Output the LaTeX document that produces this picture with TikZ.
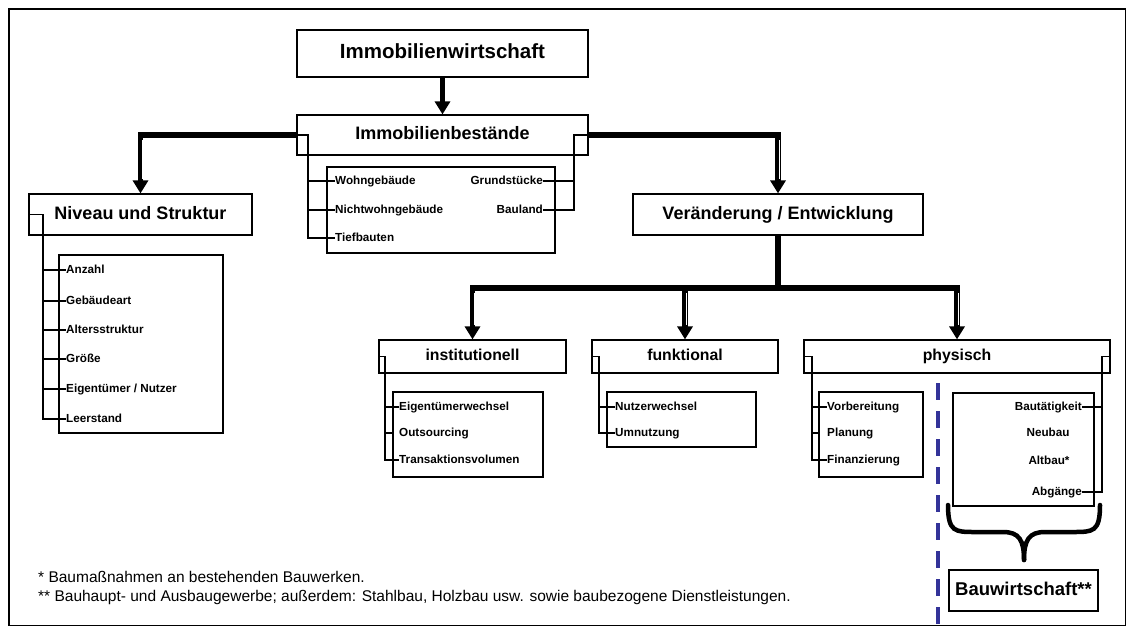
\documentclass[tikz,border=0pt]{standalone}
\usepackage{fontspec}
\setmainfont{Liberation Sans}
\usetikzlibrary{arrows.meta,calc}
\definecolor{dblue}{RGB}{51,51,153}
\begin{document}
\begin{tikzpicture}[x=1pt,y=-1pt,
  box/.style={draw, line width=1.2pt, inner sep=0pt, text height=13pt, text depth=3.6pt, font=\bfseries\fontsize{18}{20}\selectfont},
  subbox/.style={box, text height=11.4pt, text depth=3.2pt, font=\bfseries\fontsize{15.8}{18}\selectfont},
  listbox/.style={draw, line width=1.2pt, inner sep=0pt},
  item/.style={inner sep=0pt, font=\bfseries\fontsize{11.7}{13}\selectfont, text height=8.5pt, text depth=2.5pt},
  foot/.style={inner sep=0pt, anchor=west, font=\fontsize{15.5}{17}\selectfont},
  br/.style={line width=1.2pt},
  flowline/.style={line width=5.5pt},
  flow/.style={line width=5.5pt, -{Triangle[width=15pt,length=13pt]}},
  stripe/.style={white, line width=1.2pt},
  dashblue/.style={dblue, line width=4pt, dash pattern=on 17pt off 11pt},
  bracestyle/.style={line width=4.5pt, line cap=round}
]
\useasboundingbox (0,0) rectangle (1126,626);
% outer frame
\draw[line width=1.5pt] (9,9) rectangle (1125.5,625.5);

% main boxes
\node[box, minimum width=291pt, minimum height=47pt, text height=14.8pt, text depth=4.2pt, font=\bfseries\fontsize{20.5}{22}\selectfont] (iw) at (442.5,53.5) {Immobilienwirtschaft};
\node[box, minimum width=291pt, minimum height=40pt] (ib) at (442.5,135) {Immobilienbestände};
\node[listbox, minimum width=228pt, minimum height=86pt] (ibl) at (441,210) {};
\node[box, minimum width=223pt, minimum height=41pt] (ns) at (140.5,214.5) {Niveau und Struktur};
\node[listbox, minimum width=164pt, minimum height=178pt] (nsl) at (141,344) {};
\node[box, minimum width=290pt, minimum height=41pt] (ve) at (778,214.5) {Veränderung / Entwicklung};
\node[subbox, minimum width=187pt, minimum height=33pt] (inst) at (472.5,356.5) {institutionell};
\node[listbox, minimum width=150pt, minimum height=85pt] (instl) at (468,434.5) {};
\node[subbox, minimum width=186pt, minimum height=33pt] (fun) at (685,356.5) {funktional};
\node[listbox, minimum width=149pt, minimum height=55pt] (funl) at (681.5,419.5) {};
\node[subbox, minimum width=306pt, minimum height=33pt] (phy) at (957,356.5) {physisch};
\node[listbox, minimum width=104pt, minimum height=85pt] (phyl) at (871,434.5) {};
\node[listbox, minimum width=141pt, minimum height=113pt] (phyr) at (1023.5,449.5) {};
\node[box, minimum width=149pt, minimum height=41pt, text height=13.3pt, text depth=3.8pt, font=\bfseries\fontsize{18.5}{20}\selectfont] (bw) at (1023.5,590.5) {Bauwirtschaft**};

% items: Immobilienbestände
\node[item, anchor=west] (w1) at (335,181) {Wohngebäude};
\node[item, anchor=west] (w2) at (335,210) {Nichtwohngebäude};
\node[item, anchor=west] (w3) at (335,238) {Tiefbauten};
\node[item, anchor=east] (g1) at (543,181) {Grundstücke};
\node[item, anchor=east] (g2) at (543,210) {Bauland};
% items: Niveau
\node[item, anchor=west] (a1) at (66,270) {Anzahl};
\node[item, anchor=west] (a2) at (66,301) {Gebäudeart};
\node[item, anchor=west] (a3) at (66,330) {Altersstruktur};
\node[item, anchor=west] (a4) at (66,359) {Größe};
\node[item, anchor=west] (a5) at (66,389) {Eigentümer / Nutzer};
\node[item, anchor=west] (a6) at (66,419) {Leerstand};
% items: institutionell
\node[item, anchor=west] (i1) at (399,407) {Eigentümerwechsel};
\node[item, anchor=west] (i2) at (399,433) {Outsourcing};
\node[item, anchor=west] (i3) at (399,460) {Transaktionsvolumen};
% items: funktional
\node[item, anchor=west] (f1) at (615,407) {Nutzerwechsel};
\node[item, anchor=west] (f2) at (615,433) {Umnutzung};
% items: physisch left
\node[item, anchor=west] (p1) at (827,407) {Vorbereitung};
\node[item, anchor=west] (p2) at (827,433) {Planung};
\node[item, anchor=west] (p3) at (827,460) {Finanzierung};
% items: physisch right
\node[item, anchor=east] (r1) at (1082,407) {Bautätigkeit};
\node[item] (r2) at (1048,433) {Neubau};
\node[item] (r3) at (1049,461) {Altbau*};
\node[item, anchor=east] (r4) at (1082,492) {Abgänge};

% brackets
\coordinate (ibL) at (308,135);
\draw[br] (ib.west) -- (ibL) |- (w3.west);
\draw[br] (ibL |- w1.west) -- (w1.west);
\draw[br] (ibL |- w2.west) -- (w2.west);
\coordinate (ibR) at (574,135);
\draw[br] (ib.east) -- (ibR) |- (g2.east);
\draw[br] (ibR |- g1.east) -- (g1.east);

\coordinate (nsB) at (43,214.5);
\draw[br] (ns.west) -- (nsB) |- (a6.west);
\foreach \n in {a1,a2,a3,a4,a5} \draw[br] (nsB |- \n.west) -- (\n.west);

\coordinate (instB) at (385,356.5);
\draw[br] (inst.west) -- (instB) |- (i3.west);
\draw[br] (instB |- i1.west) -- (i1.west);
\draw[br] (instB |- i2.west) -- (instl.west |- i2.west);

\coordinate (funB) at (599,356.5);
\draw[br] (fun.west) -- (funB) |- (f2.west);
\draw[br] (funB |- f1.west) -- (f1.west);

\coordinate (phyB) at (812,356.5);
\draw[br] (phy.west) -- (phyB) |- (p3.west);
\draw[br] (phyB |- p1.west) -- (p1.west);
\draw[br] (phyB |- p2.west) -- (phyl.west |- p2.west);

\coordinate (phyR) at (1102,356.5);
\draw[br] (phy.east) -- (phyR) |- (r4.east);
\draw[br] (phyR |- r1.east) -- (r1.east);

% flows
\draw[flow] (iw.south) -- (ib.north);
\draw[flow] (ib.west) -| (ns.north);
\draw[flow] (ib.east) -| (ve.north);
\coordinate (hub) at (778,288);
\draw[flowline] (ve.south) -- (hub);
\draw[flow] (hub) -| (inst.north);
\draw[flow] (hub) -| (fun.north);
\draw[flow] (hub) -| (phy.north);
% double-line highlights on the vertical arrow shafts
\draw[stripe] ($(ns.north |- ib.west)+(1.7,5)$) -- ($(ns.north)+(1.7,-14)$);
\draw[stripe] ($(ve.north |- ib.east)+(1.7,5)$) -- ($(ve.north)+(1.7,-14)$);
\draw[stripe] ($(inst.north |- hub)+(1.7,5)$) -- ($(inst.north)+(1.7,-14)$);
\draw[stripe] ($(fun.north |- hub)+(1.7,5)$) -- ($(fun.north)+(1.7,-14)$);
\draw[stripe] ($(phy.north |- hub)+(1.7,5)$) -- ($(phy.north)+(1.7,-14)$);

% dashed separator
\coordinate (dsTop) at (938,383);
\coordinate (dsBot) at (938,626);
\draw[dashblue] (dsTop) -- (dsBot);

% curly brace
\coordinate (brL) at (948,505);
\coordinate (brR) at (1100,505);
\coordinate (brT) at (1024,560);
\draw[bracestyle] (brL) .. controls (948,532) and (955,532) .. (975,532) -- (1003,532) .. controls (1019,532) and (1024,540) .. (brT);
\draw[bracestyle] (brR) .. controls (1100,532) and (1093,532) .. (1073,532) -- (1045,532) .. controls (1029,532) and (1024,540) .. (brT);

% footnotes
\node[foot] (fn1) at (38,577) {* Baumaßnahmen an bestehenden Bauwerken.};
\node[foot] (fn2) at (38,597) {** Bauhaupt- und Ausbaugewerbe; außerdem: Stahlbau, Holzbau usw. sowie baubezogene Dienstleistungen.};
\end{tikzpicture}
\end{document}
